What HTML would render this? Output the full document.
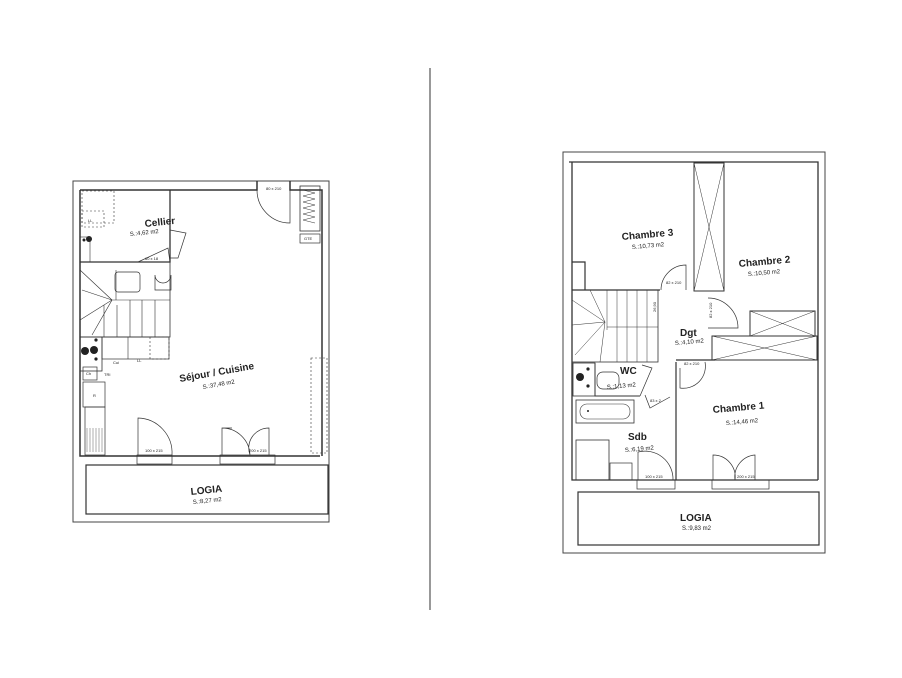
<!DOCTYPE html>
<html><head><meta charset="utf-8"><style>
html,body{margin:0;padding:0;background:#fff;width:902px;height:678px;overflow:hidden}
svg{display:block}
text{font-family:"Liberation Sans",sans-serif;fill:#222}
.t{font-weight:bold;font-size:10px}
.s{font-size:6px}
.x{font-size:4px}
</style></head><body>
<svg width="902" height="678" viewBox="0 0 902 678" xmlns="http://www.w3.org/2000/svg" fill="none" stroke="#333" stroke-width="1">
<!-- divider -->
<line x1="430" y1="68" x2="430" y2="610" stroke="#555" stroke-width="1.2"/>

<!-- ============ LEFT PLAN ============ -->
<g>
<rect x="73" y="181" width="256" height="341" stroke="#444"/>
<path d="M80 190 H257 V181 M290 181 V190 H322 V456" stroke-width="1.5"/>
<path d="M80 190 V456 H320" stroke-width="1.5"/>
<path d="M257 190 A33 33 0 0 0 290 223 V190" stroke-width="0.7"/>
<!-- closet top right -->
<rect x="300" y="186" width="20" height="45" stroke-width="0.8"/>
<path d="M303 190 l12 3 l-12 3 l12 3 l-12 3 l12 3 l-12 3 l12 3 l-12 3 l12 3 l-12 3 l12 3" stroke-width="0.5"/>
<rect x="300" y="234" width="20" height="9" stroke-width="0.7"/>
<text class="x" x="304" y="240" stroke="none">GTE</text>
<text class="x" x="266" y="190" stroke="none">80 x 210</text>
<!-- Cellier -->
<path d="M80 262 H170 V190" stroke-width="1.3"/>
<rect x="82" y="191" width="32" height="32" stroke-dasharray="2,2" stroke-width="0.6"/>
<rect x="82" y="211" width="22" height="16" stroke-dasharray="2,2" stroke-width="0.6"/>
<text class="x" x="88" y="222" stroke="none">LL</text>
<circle cx="89" cy="239" r="3" fill="#222" stroke="none"/>
<circle cx="84" cy="240" r="1.5" fill="#222" stroke="none"/>
<rect x="80" y="237" width="10" height="25" stroke-width="0.6"/>
<path d="M170 230 L186 233 L178 258 L170 258" stroke-width="0.7"/>
<path d="M138 262 L168 248 L170 262" stroke-width="0.7"/>
<text class="x" x="145" y="260" stroke="none">60 x 18</text>
<!-- stair block -->
<rect x="80" y="262" width="90" height="75" stroke-width="0.8"/>
<path d="M80 270 L112 300 L80 320 M82 290 L112 300 L92 335 M112 300 L170 300 M112 300 H170 M116 270 V300 M130 300 V337 M142 300 V337 M155 300 V337 M104 305 V337 M117 305 V337" stroke-width="0.6"/>
<rect x="115" y="272" width="25" height="20" rx="3" stroke-width="0.7"/>
<path d="M155 275 a8 8 0 0 0 16 0 v15 h-16z" stroke-width="0.7"/>
<!-- kitchen -->
<rect x="80" y="337" width="22" height="34" stroke-width="0.8"/>
<circle cx="94" cy="350" r="4" fill="#222" stroke="none"/>
<circle cx="85" cy="351" r="4" fill="#222" stroke="none"/>
<circle cx="96" cy="340" r="1.6" fill="#222" stroke="none"/>
<circle cx="96" cy="359" r="1.6" fill="#222" stroke="none"/>
<rect x="102" y="337" width="67" height="22" stroke-width="0.7"/>
<line x1="128" y1="337" x2="128" y2="359" stroke-width="0.6"/>
<rect x="150" y="337" width="19" height="22" stroke-dasharray="2,2" stroke-width="0.6"/>
<text class="x" x="113" y="364" stroke="none">Cui</text>
<text class="x" x="137" y="362" stroke="none">LL</text>
<rect x="83" y="367" width="14" height="13" stroke-width="0.7"/>
<text class="x" x="86" y="375" stroke="none">Ch</text>
<text class="x" x="104" y="376" stroke="none">TRI</text>
<rect x="83" y="382" width="22" height="25" stroke-width="0.7"/>
<text class="x" x="93" y="397" stroke="none">R</text>
<rect x="85" y="407" width="20" height="48" stroke-width="0.7"/>
<path d="M87 428 V452 M90 428 V452 M93 428 V452 M96 428 V452 M99 428 V452 M102 428 V452" stroke-width="0.4"/>
<rect x="311" y="358" width="16" height="95" stroke-dasharray="2,2" stroke-width="0.6"/>
<!-- doors bottom -->
<path d="M138 455 V418 A35 35 0 0 1 172 455" stroke-width="0.7"/>
<path d="M222 455 V428 H232 M222 428 A28 28 0 0 1 250 455 M269 455 V428 A20 20 0 0 0 250 455" stroke-width="0.7"/>
<rect x="137" y="455" width="35" height="9" stroke-width="0.7"/>
<rect x="220" y="455" width="55" height="9" stroke-width="0.7"/>
<text class="x" x="145" y="452" stroke="none">100 x 215</text>
<text class="x" x="249" y="452" stroke="none">200 x 215</text>
<!-- loggia -->
<rect x="86" y="465" width="242" height="49" stroke-width="1.2"/>
<text class="t" x="145" y="227" stroke="none" transform="rotate(-6 145 227)">Cellier</text>
<text class="s" x="130" y="236" stroke="none" transform="rotate(-6 130 236)">S.:4,62 m2</text>
<text class="t" x="180" y="382" stroke="none" transform="rotate(-10 180 382)">Séjour / Cuisine</text>
<text class="s" x="203" y="389" stroke="none" transform="rotate(-10 203 389)">S.:37,48 m2</text>
<text class="t" x="191" y="495" stroke="none" transform="rotate(-6 191 495)">LOGIA</text>
<text class="s" x="193" y="504" stroke="none" transform="rotate(-6 193 504)">S.:8,27 m2</text>
</g>

<!-- ============ RIGHT PLAN ============ -->
<g>
<rect x="563" y="152" width="262" height="401" stroke="#444"/>
<path d="M569 162 H818 V480" stroke-width="1.3"/>
<path d="M572 162 V480 H818" stroke-width="1.3"/>
<!-- vertical closet -->
<rect x="694" y="163" width="30" height="128" stroke-width="1"/>
<path d="M694 163 L724 291 M724 163 L694 291" stroke-width="0.5"/>
<!-- chambre 3 bottom wall -->
<path d="M572 290 H660 M572 262 H585 V290" stroke-width="1.2"/>
<path d="M661 290 A25 25 0 0 1 686 265 V290" stroke-width="0.7"/>
<text class="x" x="666" y="284" stroke="none">82 x 210</text>
<!-- dgt door to chambre2 -->
<path d="M708 298 A30 30 0 0 1 738 328 H708" stroke-width="0.7"/>
<text class="x" x="712" y="318" stroke="none" transform="rotate(-90 712 318)">82 x 210</text>
<!-- horizontal closets -->
<rect x="750" y="311" width="65" height="25" stroke-width="1"/>
<path d="M750 311 L815 336 M815 311 L750 336" stroke-width="0.5"/>
<rect x="712" y="336" width="105" height="24" stroke-width="1"/>
<path d="M712 336 L817 360 M817 336 L712 360" stroke-width="0.5"/>
<!-- chambre1 left wall -->
<path d="M676 362 V480 M676 360 H715" stroke-width="1.2"/>
<path d="M680 368 V388 A22 22 0 0 0 705 362" stroke-width="0.7"/>
<text class="x" x="684" y="365" stroke="none">82 x 210</text>
<!-- stairs -->
<rect x="572" y="290" width="86" height="72" stroke-width="0.8"/>
<path d="M607 290 V330 M617 290 V362 M627 290 V362 M637 290 V362 M647 290 V362 M607 327 H658 M572 300 L605 322 L575 355 M590 290 L605 322 L600 362 M605 322 L572 325" stroke-width="0.5"/>
<text class="x" x="656" y="312" stroke="none" transform="rotate(-90 656 312)">26,90</text>
<!-- WC -->
<rect x="573" y="363" width="22" height="33" stroke-width="0.8"/>
<circle cx="580" cy="377" r="4" fill="#222" stroke="none"/>
<circle cx="588" cy="369" r="1.6" fill="#222" stroke="none"/>
<circle cx="588" cy="386" r="1.6" fill="#222" stroke="none"/>
<path d="M595 363 V396 H640" stroke-width="1"/>
<rect x="597" y="372" width="22" height="17" rx="6" stroke-width="0.7"/>
<path d="M640 396 L652 368 L642 365" stroke-width="0.7"/>
<path d="M645 395 L650 408 L670 397" stroke-width="0.7"/>
<text class="x" x="650" y="402" stroke="none">83 x 2</text>
<!-- bath -->
<rect x="576" y="400" width="58" height="23" stroke-width="0.8"/>
<rect x="580" y="404" width="50" height="15" rx="7" stroke-width="0.6"/>
<circle cx="588" cy="411" r="1" fill="#222" stroke="none"/>
<rect x="576" y="440" width="33" height="40" stroke-width="0.8"/>
<rect x="610" y="463" width="22" height="17" stroke-width="0.7"/>
<path d="M638 480 V452 A28 28 0 0 1 673 480" stroke-width="0.7"/>
<text class="x" x="645" y="478" stroke="none">100 x 215</text>
<path d="M713 480 V455 A22 22 0 0 1 735 480 M755 480 V455 A22 22 0 0 0 735 480" stroke-width="0.7"/>
<text class="x" x="737" y="478" stroke="none">200 x 215</text>
<rect x="637" y="480" width="38" height="9" stroke-width="0.7"/>
<rect x="712" y="480" width="57" height="9" stroke-width="0.7"/>
<!-- loggia -->
<rect x="578" y="492" width="241" height="53" stroke-width="1.2"/>
<text class="t" x="622" y="240" stroke="none" transform="rotate(-5 622 240)">Chambre 3</text>
<text class="s" x="632" y="249" stroke="none" transform="rotate(-5 632 249)">S.:10,73 m2</text>
<text class="t" x="739" y="267" stroke="none" transform="rotate(-5 739 267)">Chambre 2</text>
<text class="s" x="748" y="276" stroke="none" transform="rotate(-5 748 276)">S.:10,50 m2</text>
<text class="t" x="680" y="336" stroke="none">Dgt</text>
<text class="s" x="675" y="345" stroke="none" transform="rotate(-5 675 345)">S.:4,10 m2</text>
<text class="t" x="620" y="374" stroke="none">WC</text>
<text class="s" x="607" y="389" stroke="none" transform="rotate(-5 607 389)">S.:1,13 m2</text>
<text class="t" x="713" y="413" stroke="none" transform="rotate(-5 713 413)">Chambre 1</text>
<text class="s" x="726" y="425" stroke="none" transform="rotate(-5 726 425)">S.:14,46 m2</text>
<text class="t" x="628" y="440" stroke="none">Sdb</text>
<text class="s" x="625" y="452" stroke="none" transform="rotate(-5 625 452)">S.:6,19 m2</text>
<text class="t" x="680" y="521" stroke="none">LOGIA</text>
<text class="s" x="682" y="530" stroke="none">S.:9,83 m2</text>
</g>
</svg>
</body></html>
